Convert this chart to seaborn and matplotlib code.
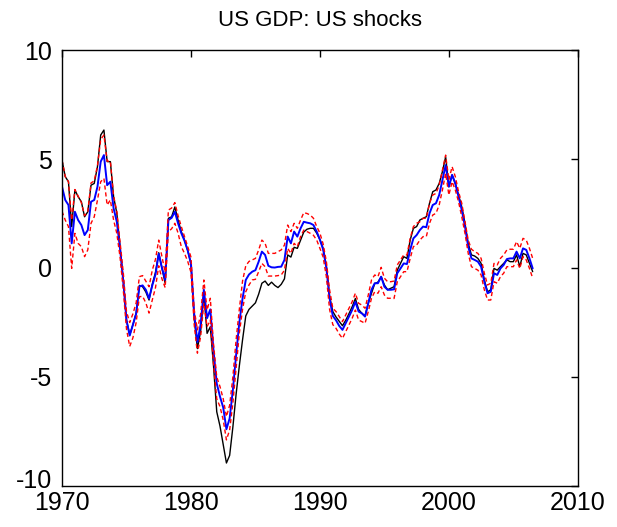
import numpy as np
import seaborn as sns
import matplotlib
matplotlib.use("Agg")
import matplotlib.pyplot as plt
import matplotlib.transforms as mtransforms

# quarterly dates, 1970Q1 .. 2006Q3
quarters = np.arange(1970, 2006.75, 0.25)

gdp_actual = [
    4.95, 4.19, 3.96, 1.9,
    3.58, 3.27, 3.04, 2.35,
    2.58, 3.8, 3.88, 4.65,
    6.1, 6.33, 4.88, 4.88,
    3.27, 2.52, 0.98, -0.55,
    -2.39, -3.07, -2.6, -2.07,
    -0.8, -0.86, -1.1, -1.47,
    -0.75, -0.2, 0.7, 0.0,
    -0.7, 2.28, 2.35, 2.8,
    2.2, 1.67, 1.28, 0.8,
    0.2, -2.3, -3.7, -2.9,
    -1.2, -3.0, -2.7, -4.5,
    -6.6, -7.25, -8.1, -8.95,
    -8.6, -7.3, -5.8, -4.5,
    -3.3, -2.2, -1.9, -1.75,
    -1.6, -1.2, -0.7, -0.6,
    -0.8, -0.65, -0.8, -0.9,
    -0.75, -0.5, 0.6, 0.5,
    0.95, 0.9, 1.28, 1.65,
    1.78, 1.82, 1.82, 1.6,
    1.3, 0.9, 0.1, -1.3,
    -2.0, -2.25, -2.45, -2.65,
    -2.4, -2.1, -1.78, -1.4,
    -1.9, -2.08, -2.2, -1.62,
    -1.16, -0.72, -0.65, -0.4,
    -0.78, -1.0, -0.93, -0.86,
    -0.1, 0.21, 0.52, 0.44,
    1.28, 1.82, 1.9, 2.2,
    2.28, 2.35, 2.97, 3.5,
    3.58, 3.88, 4.42, 5.1,
    3.73, 4.27, 3.88, 3.35,
    2.81, 2.05, 1.13, 0.6,
    0.55, 0.44, 0.21, -0.55,
    -1.09, -1.0, -0.02, -0.1,
    0.06, 0.21, 0.37, 0.29,
    0.29, 0.6, 0.06, 0.67,
    0.6, 0.21, -0.17,
]

us_shocks = [
    3.73, 3.12, 2.89, 1.13,
    2.58, 2.2, 1.97, 1.51,
    1.74, 3.04, 3.12, 3.73,
    4.88, 5.18, 3.8, 3.96,
    2.74, 2.12, 0.9, -0.6,
    -2.4, -3.1, -2.6, -2.1,
    -0.85, -0.8, -1.0, -1.4,
    -0.8, -0.3, 0.65, 0.0,
    -0.55, 2.2, 2.3, 2.58,
    2.05, 1.6, 1.25, 0.8,
    0.2, -2.1, -3.4, -2.6,
    -1.0, -2.3, -1.9, -3.8,
    -5.3, -5.9, -6.4, -7.4,
    -6.9, -5.6, -4.0, -2.5,
    -1.4, -0.55, -0.3, -0.17,
    -0.1, 0.29, 0.75, 0.6,
    0.1, 0.03, 0.02, 0.05,
    0.06, 0.37, 1.44, 1.13,
    1.67, 1.44, 1.82, 2.12,
    2.08, 2.05, 1.97, 1.67,
    1.3, 0.85, 0.0, -1.4,
    -2.2, -2.4, -2.66, -2.84,
    -2.54, -2.23, -1.93, -1.55,
    -2.0, -2.08, -2.23, -1.62,
    -1.0, -0.7, -0.7, -0.4,
    -0.86, -1.0, -1.0, -0.98,
    -0.24, -0.02, 0.21, 0.18,
    0.83, 1.36, 1.51, 1.74,
    1.9, 1.87, 2.51, 2.89,
    2.97, 3.35, 4.04, 4.72,
    3.73, 4.27, 3.88, 3.27,
    2.66, 1.9, 0.98, 0.44,
    0.37, 0.29, 0.06, -0.63,
    -1.16, -1.09, -0.24, -0.32,
    -0.02, 0.14, 0.41, 0.44,
    0.44, 0.75, 0.44, 0.9,
    0.83, 0.44, -0.02,
]

band_upper = [
    4.95, 4.2, 3.96, 2.2,
    3.6, 3.3, 3.0, 2.4,
    2.6, 3.9, 4.0, 4.7,
    5.9, 6.1, 4.9, 4.9,
    3.3, 2.6, 1.2, -0.2,
    -2.0, -2.5, -2.1, -1.6,
    -0.4, -0.35, -0.6, -0.86,
    -0.1, 0.4, 1.28, 0.52,
    -0.2, 2.66, 2.75, 3.0,
    2.4, 1.9, 1.44, 0.98,
    0.5, -1.9, -2.84, -2.1,
    -0.55, -1.93, -1.39, -3.5,
    -5.0, -5.44, -6.0, -6.82,
    -6.3, -5.0, -3.3, -1.9,
    -0.6, 0.1, 0.3, 0.37,
    0.44, 0.83, 1.28, 1.13,
    0.67, 0.67, 0.67, 0.75,
    0.83, 1.05, 1.97, 1.67,
    2.05, 1.82, 2.2, 2.54,
    2.5, 2.43, 2.28, 1.9,
    1.6, 1.1, 0.3, -1.0,
    -1.85, -2.0, -2.23, -2.46,
    -2.16, -1.85, -1.55, -1.16,
    -1.62, -1.7, -1.85, -1.24,
    -0.55, -0.32, -0.4, 0.03,
    -0.47, -0.63, -0.63, -0.6,
    0.14, 0.37, 0.6, 0.6,
    1.36, 1.9, 2.05, 2.12,
    2.28, 2.28, 2.97, 3.35,
    3.42, 3.8, 4.5, 5.18,
    4.04, 4.65, 4.19, 3.5,
    2.97, 2.12, 1.28, 0.86,
    0.75, 0.67, 0.44, -0.24,
    -0.78, -0.7, 0.21, 0.14,
    0.44, 0.6, 0.83, 0.86,
    0.86, 1.21, 0.9, 1.36,
    1.28, 0.9, 0.44,
]

band_lower = [
    2.6, 2.2, 1.9, -0.02,
    1.59, 1.13, 0.98, 0.52,
    0.83, 2.05, 2.35, 3.12,
    3.96, 4.11, 2.89, 3.12,
    2.2, 1.59, 0.5, -1.0,
    -2.8, -3.6, -3.2, -2.5,
    -1.32, -1.3, -1.6, -2.07,
    -1.47, -0.9, 0.1, -0.5,
    -0.9, 1.67, 1.8, 2.05,
    1.6, 0.98, 0.67, 0.3,
    -0.2, -2.6, -3.91, -3.15,
    -1.62, -2.69, -2.39, -4.4,
    -6.0, -6.36, -6.97, -7.89,
    -7.43, -6.2, -4.6, -3.0,
    -1.9, -1.09, -0.78, -0.55,
    -0.52, -0.17, 0.21, 0.06,
    -0.37, -0.37, -0.37, -0.35,
    -0.32, -0.1, 0.9, 0.67,
    1.13, 0.98, 1.44, 1.74,
    1.67, 1.59, 1.5, 1.28,
    0.9, 0.5, -0.4, -1.9,
    -2.6, -2.77, -3.03, -3.23,
    -2.92, -2.61, -2.31, -1.93,
    -2.39, -2.46, -2.54, -2.0,
    -1.39, -1.09, -1.16, -0.86,
    -1.24, -1.39, -1.39, -1.4,
    -0.63, -0.4, -0.17, -0.17,
    0.44, 0.98, 1.05, 1.28,
    1.44, 1.44, 2.05, 2.43,
    2.51, 2.89, 3.58, 4.34,
    3.35, 3.96, 3.58, 3.04,
    2.35, 1.59, 0.67, 0.06,
    -0.02, -0.1, -0.32, -1.0,
    -1.47, -1.47, -0.63, -0.7,
    -0.4, -0.24, 0.06, 0.06,
    0.06, 0.37, -0.02, 0.52,
    0.37, -0.02, -0.47,
]

x_ticks = [1970, 1980, 1990, 2000, 2010]
y_ticks = [-10, -5, 0, 5, 10]

sns.set_style("white")
plt.rcParams['font.family'] = ['Liberation Sans', 'DejaVu Sans']
plt.rcParams['axes.unicode_minus'] = False

fig = plt.figure(figsize=(6.17, 5.27), dpi=100)
ax = fig.add_axes([0.1005, 0.078, 0.836, 0.827])

sns.lineplot(x=quarters, y=gdp_actual, color="black", lw=1.0, estimator=None, ax=ax)
sns.lineplot(x=quarters, y=us_shocks, color="blue", lw=1.4, estimator=None, ax=ax)
sns.lineplot(x=quarters, y=band_lower, color="red", lw=1.0, linestyle=(0, (3, 2)), estimator=None, ax=ax)
sns.lineplot(x=quarters, y=band_upper, color="red", lw=1.0, linestyle=(0, (3, 2)), estimator=None, ax=ax)

ax.set_xlim(1970, 2010)
ax.set_ylim(-10, 10)
ax.set_xticks(x_ticks)
ax.set_yticks(y_ticks)
ax.tick_params(direction="in", top=True, right=True, length=5, width=1,
               labelsize=18, colors="black")
ax.tick_params(axis="x", pad=4)
ax.tick_params(axis="y", pad=7)
for s in ax.spines.values():
    s.set_color("black")
    s.set_linewidth(1.0)

# lift the bottom y label a little so it clears "1970", as in the original
lowest = ax.get_yticklabels()[0]
lowest.set_transform(lowest.get_transform() +
                     mtransforms.ScaledTranslation(0, 5 / 72, fig.dpi_scale_trans))

ax.set_title("US GDP: US shocks", fontsize=16, pad=17, color="black")
ax.set_xlabel("")
ax.set_ylabel("")

fig.savefig("out.png", dpi=100)
